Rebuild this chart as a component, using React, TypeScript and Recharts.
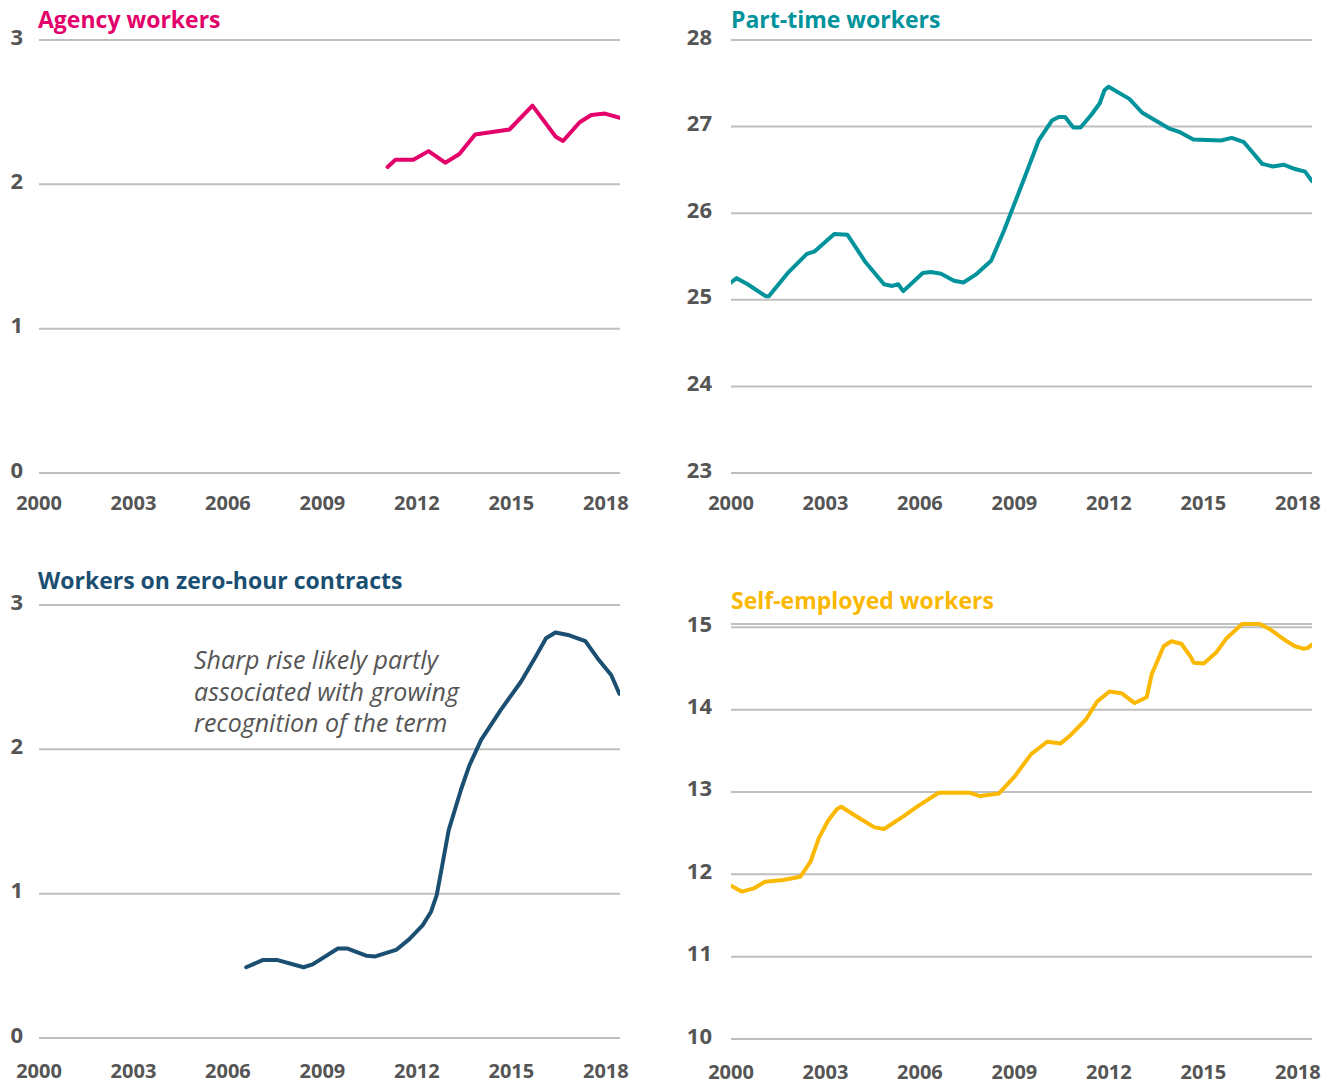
import React from "react";
import { LineChart, Line, XAxis, YAxis, CartesianGrid } from "recharts";

// ---------- DATA ----------
const xTicks = [2000, 2003, 2006, 2009, 2012, 2015, 2018];
const xDomain = [2000, 2018.45];

const agencyYears = [2011.07, 2011.32, 2011.89, 2012.37, 2012.9, 2013.35, 2013.85, 2014.94, 2015.67, 2016.41, 2016.64, 2017.17, 2017.54, 2017.97, 2018.45];
const agencyValues = [2.12, 2.17, 2.17, 2.23, 2.15, 2.21, 2.345, 2.38, 2.545, 2.33, 2.3, 2.43, 2.48, 2.49, 2.46];
const agencyTicks = [0, 1, 2, 3];

const partTimeYears = [2000.0, 2000.18, 2000.53, 2001.11, 2001.2, 2001.83, 2002.41, 2002.66, 2003.28, 2003.7, 2004.28, 2004.86, 2005.12, 2005.31, 2005.47, 2006.09, 2006.35, 2006.67, 2007.08, 2007.38, 2007.77, 2008.26, 2008.67, 2009.32, 2009.77, 2010.19, 2010.41, 2010.61, 2010.87, 2011.1, 2011.45, 2011.71, 2011.86, 2011.99, 2012.65, 2013.06, 2013.9, 2014.23, 2014.68, 2015.56, 2015.9, 2016.29, 2016.87, 2017.2, 2017.55, 2017.91, 2018.23, 2018.45];
const partTimeValues = [25.2, 25.25, 25.18, 25.04, 25.04, 25.32, 25.53, 25.56, 25.76, 25.75, 25.43, 25.18, 25.16, 25.18, 25.1, 25.31, 25.32, 25.3, 25.22, 25.2, 25.29, 25.45, 25.8, 26.41, 26.84, 27.07, 27.11, 27.11, 26.99, 26.99, 27.14, 27.27, 27.42, 27.46, 27.32, 27.16, 26.98, 26.94, 26.85, 26.84, 26.87, 26.82, 26.57, 26.54, 26.56, 26.51, 26.48, 26.37];
const partTimeTicks = [23, 24, 25, 26, 27, 28];

const zeroHourYears = [2006.58, 2007.1, 2007.58, 2008.4, 2008.69, 2009.49, 2009.8, 2010.39, 2010.68, 2011.34, 2011.76, 2012.18, 2012.45, 2012.63, 2012.8, 2013.01, 2013.4, 2013.67, 2014.04, 2014.67, 2015.31, 2015.78, 2016.1, 2016.4, 2016.84, 2017.35, 2017.74, 2018.17, 2018.43];
const zeroHourValues = [0.49, 0.54, 0.54, 0.49, 0.51, 0.62, 0.62, 0.57, 0.565, 0.61, 0.685, 0.78, 0.875, 0.99, 1.19, 1.44, 1.72, 1.89, 2.065, 2.275, 2.47, 2.645, 2.77, 2.81, 2.79, 2.75, 2.63, 2.515, 2.385];
const zeroHourTicks = [0, 1, 2, 3];

const selfYears = [2000.0, 2000.34, 2000.73, 2001.08, 2001.66, 2002.2, 2002.52, 2002.79, 2003.08, 2003.36, 2003.5, 2004.04, 2004.56, 2004.86, 2005.46, 2005.98, 2006.6, 2007.59, 2007.91, 2008.5, 2009.01, 2009.53, 2010.04, 2010.47, 2010.78, 2011.27, 2011.63, 2012.02, 2012.4, 2012.82, 2013.2, 2013.36, 2013.74, 2013.98, 2014.3, 2014.6, 2014.69, 2015.01, 2015.4, 2015.72, 2016.23, 2016.79, 2017.14, 2017.65, 2017.91, 2018.17, 2018.32, 2018.45];
const selfValues = [11.86, 11.79, 11.83, 11.91, 11.93, 11.97, 12.15, 12.44, 12.65, 12.79, 12.82, 12.69, 12.57, 12.55, 12.7, 12.84, 12.99, 12.99, 12.95, 12.98, 13.19, 13.46, 13.61, 13.59, 13.69, 13.88, 14.1, 14.22, 14.2, 14.08, 14.15, 14.43, 14.77, 14.83, 14.8, 14.64, 14.57, 14.56, 14.69, 14.86, 15.04, 15.04, 14.97, 14.83, 14.77, 14.74, 14.75, 14.79];
const selfTicks = [10, 11, 12, 13, 14, 15];

const annotationLines = [
  "Sharp rise likely partly",
  "associated with growing",
  "recognition of the term",
];

// ---------- HELPERS ----------
const toRows = (xs: number[], ys: number[]) => xs.map((x, i) => ({ x, v: ys[i] }));

const FONT = "'Open Sans', 'Noto Sans', sans-serif";
const LABEL = "#555555";
const GRID = "#bfbfbf";

const makeYTick = (gap: number) => (props: any) => {
  const { x, y, payload } = props;
  return (
    <text x={x - gap} y={y} dy={4.5} textAnchor="end" fill={LABEL} fontFamily={FONT} fontWeight={700} fontSize={22}>
      {payload.value}
    </text>
  );
};

const makeXTick = (off: number) => (props: any) => {
  const { x, y, payload } = props;
  return (
    <text x={x} y={y} dy={off} textAnchor="middle" fill={LABEL} fontFamily={FONT} fontWeight={700} fontSize={20}>
      {payload.value}
    </text>
  );
};

type PanelProps = {
  left: number;
  top: number;
  width: number;
  height: number;
  margin: { top: number; right: number; bottom: number; left: number };
  yWidth: number;
  yGap: number;
  xOff: number;
  rows: { x: number; v: number }[];
  yDomain: number[];
  yTicks: number[];
  color: string;
};

const Panel = (p: PanelProps) => (
  <div style={{ position: "absolute", left: p.left, top: p.top, width: p.width, height: p.height }}>
    <LineChart width={p.width} height={p.height} data={p.rows} margin={p.margin}>
      <CartesianGrid vertical={false} stroke={GRID} strokeWidth={2} />
      <XAxis
        dataKey="x"
        type="number"
        domain={xDomain}
        ticks={xTicks}
        allowDataOverflow
        axisLine={false}
        tickLine={false}
        tickSize={0}
        tickMargin={0}
        height={30}
        interval={0}
        tick={makeXTick(p.xOff)}
      />
      <YAxis
        type="number"
        domain={p.yDomain}
        ticks={p.yTicks}
        width={p.yWidth}
        axisLine={false}
        tickLine={false}
        tickSize={0}
        tickMargin={0}
        interval={0}
        tick={makeYTick(p.yGap)}
      />
      <Line
        dataKey="v"
        type="linear"
        stroke={p.color}
        strokeWidth={4}
        dot={false}
        activeDot={false}
        isAnimationActive={false}
        strokeLinejoin="round"
        strokeLinecap="round"
      />
    </LineChart>
  </div>
);

const titleStyle = (left: number, top: number, color: string): React.CSSProperties => ({
  position: "absolute",
  left,
  top,
  color,
  fontFamily: FONT,
  fontWeight: 700,
  fontSize: 23,
  lineHeight: "23px",
  whiteSpace: "nowrap",
});

export default function App() {
  return (
    <div style={{ position: "absolute", left: 0, top: 0, width: 1337, height: 1084, background: "#ffffff", overflow: "hidden" }}>
      <Panel
        left={0} top={0} width={660} height={540}
        margin={{ top: 40, right: 40, bottom: 37, left: 0 }}
        yWidth={39} yGap={16} xOff={36.5}
        rows={toRows(agencyYears, agencyValues)}
        yDomain={[0, 3]} yTicks={agencyTicks}
        color="#e4006b"
      />
      <Panel
        left={670} top={0} width={667} height={540}
        margin={{ top: 40, right: 25, bottom: 37, left: 0 }}
        yWidth={61} yGap={19} xOff={36.5}
        rows={toRows(partTimeYears, partTimeValues)}
        yDomain={[23, 28]} yTicks={partTimeTicks}
        color="#00939b"
      />
      <Panel
        left={0} top={560} width={660} height={524}
        margin={{ top: 45, right: 40, bottom: 16, left: 0 }}
        yWidth={39} yGap={16} xOff={39.5}
        rows={toRows(zeroHourYears, zeroHourValues)}
        yDomain={[0, 3]} yTicks={zeroHourTicks}
        color="#1b4f72"
      />
      <Panel
        left={670} top={560} width={667} height={524}
        margin={{ top: 64, right: 25, bottom: 15, left: 0 }}
        yWidth={61} yGap={19} xOff={39.5}
        rows={toRows(selfYears, selfValues)}
        yDomain={[10, 15]} yTicks={selfTicks}
        color="#fbb800"
      />

      <div style={titleStyle(38, 8, "#e4006b")}>Agency workers</div>
      <div style={titleStyle(731, 8, "#00939b")}>Part-time workers</div>
      <div style={titleStyle(38, 569, "#1b4f72")}>Workers on zero-hour contracts</div>
      <div style={titleStyle(731, 589, "#fbb800")}>Self-employed workers</div>

      <div
        style={{
          position: "absolute",
          left: 194,
          top: 644,
          color: "#555555",
          fontFamily: FONT,
          fontStyle: "italic",
          fontWeight: 400,
          fontSize: 25,
          lineHeight: "31.7px",
          whiteSpace: "nowrap",
        }}
      >
        {annotationLines.map((l) => (
          <div key={l}>{l}</div>
        ))}
      </div>
    </div>
  );
}
